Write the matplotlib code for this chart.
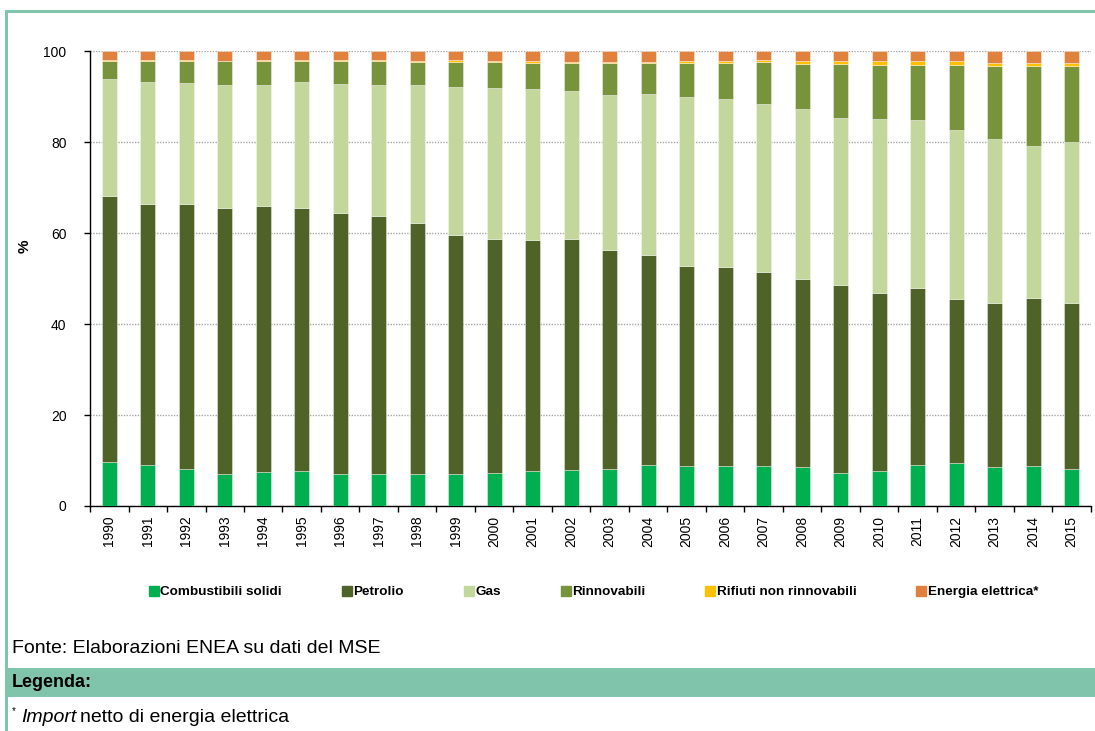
import numpy as np
import matplotlib
matplotlib.use("Agg")
import matplotlib.pyplot as plt
from matplotlib.patches import Rectangle
from matplotlib.lines import Line2D

plt.rcParams["font.family"] = ["Liberation Sans", "DejaVu Sans"]

# Quote % per fonte, 1990-2015
years = [str(y) for y in range(1990, 2016)]
solidi = [9.7, 9.0, 8.1, 7.0, 7.5, 7.7, 7.0, 7.0, 7.0, 7.0, 7.3, 7.7, 7.9,
          8.1, 9.0, 8.8, 8.9, 8.8, 8.6, 7.3, 7.7, 9.0, 9.5, 8.6, 8.8, 8.1]
petrolio = [58.5, 57.3, 58.2, 58.5, 58.5, 57.8, 57.3, 56.7, 55.2, 52.6, 51.4, 50.7, 50.8,
            48.1, 46.2, 44.0, 43.7, 42.7, 41.2, 41.2, 39.2, 39.0, 36.1, 36.0, 36.9, 36.5]
gas = [25.6, 26.8, 26.6, 27.1, 26.5, 27.6, 28.4, 28.9, 30.3, 32.4, 33.2, 33.2, 32.5,
       34.1, 35.3, 37.1, 36.9, 36.9, 37.5, 36.7, 38.2, 36.9, 37.1, 36.0, 33.4, 35.3]
rinnovabili = [4.1, 4.8, 5.0, 5.1, 5.4, 4.7, 5.1, 5.2, 5.1, 5.6, 5.7, 5.8, 6.1,
               7.0, 6.9, 7.4, 7.9, 9.2, 9.8, 11.9, 11.8, 12.1, 14.2, 16.1, 17.6, 16.8]
rifiuti = [0.1, 0.1, 0.1, 0.1, 0.1, 0.3, 0.3, 0.3, 0.2, 0.4, 0.2, 0.3, 0.2,
           0.3, 0.2, 0.4, 0.5, 0.5, 0.6, 0.6, 0.9, 0.8, 0.9, 0.7, 0.7, 0.7]
elettrica = [2.0, 2.0, 2.0, 2.2, 2.0, 1.9, 1.9, 1.9, 2.2, 2.0, 2.2, 2.3, 2.5,
             2.4, 2.4, 2.3, 2.1, 1.9, 2.3, 2.3, 2.2, 2.2, 2.2, 2.6, 2.6, 2.6]

series = [
    ("Combustibili solidi", solidi, "#00B050"),
    ("Petrolio", petrolio, "#4F6228"),
    ("Gas", gas, "#C3D69B"),
    ("Rinnovabili", rinnovabili, "#77933C"),
    ("Rifiuti non rinnovabili", rifiuti, "#FFC000"),
    ("Energia elettrica*", elettrica, "#E0823E"),
]

GREEN = "#80C4AC"

fig = plt.figure(figsize=(10.95, 7.31), dpi=100)
ax = fig.add_axes([0.0822, 0.3078, 0.9141, 0.6224])

x = np.arange(len(years))
bottom = np.zeros(len(years))
handles = []
for name, vals, col in series:
    vals = np.array(vals)
    ax.bar(x, vals, 0.4, bottom=bottom, color=col,
           edgecolor=(1, 1, 1, 0.45), linewidth=0.6, zorder=3)
    bottom += vals
    handles.append(Line2D([], [], marker="s", ls="", markersize=7,
                          markerfacecolor=col, markeredgecolor=col, label=name))

ax.set_xlim(-0.5, len(years) - 0.5)
ax.set_ylim(0, 100)
ax.set_yticks(range(0, 101, 20))
ax.yaxis.grid(True, color="#a6a6a6", linestyle=(0, (1, 1)), linewidth=1.0, zorder=0)
ax.set_xticks(x)
ax.set_xticklabels(years, rotation=90, fontsize=10)
ax.set_xticks(np.arange(-0.5, len(years)), minor=True)
ax.tick_params(axis="x", which="major", length=0, pad=7)
ax.tick_params(axis="x", which="minor", length=4, direction="out", width=1)
ax.tick_params(axis="y", length=4, direction="out", width=1, labelsize=10, pad=13)
for s in ("top", "right"):
    ax.spines[s].set_visible(False)
for s in ("left", "bottom"):
    ax.spines[s].set_linewidth(1.0)
ax.set_ylabel("%", fontsize=11, fontweight="bold")
ax.yaxis.set_label_coords(-0.058, 0.57)

leg = fig.legend(handles=handles, loc="center", bbox_to_anchor=(0.542, 0.19),
                 ncol=6, frameon=False, handlelength=0.8, handletextpad=0.1,
                 columnspacing=4.4, prop={"weight": "bold", "size": 9.7})

# cornice verde
fig.add_artist(Line2D([0.0055, 1.0], [0.9855, 0.9855], color=GREEN, lw=2.2,
                      transform=fig.transFigure))
fig.add_artist(Line2D([0.0058, 0.0058], [0.0, 0.9855], color=GREEN, lw=2.2,
                      transform=fig.transFigure))
fig.add_artist(Rectangle((0.007, 0.0465), 0.993, 0.0395, transform=fig.transFigure,
                         facecolor=GREEN, edgecolor="none"))

fig.text(0.011, 0.1135, "Fonte: Elaborazioni ENEA su dati del MSE", fontsize=14,
         va="center")
fig.text(0.011, 0.0665, "Legenda:", fontsize=13, fontweight="bold", va="center")
fig.text(0.011, 0.027, "*", fontsize=7, va="center")
t_imp = fig.text(0.019, 0.018, "Import", fontsize=14, style="italic", va="center")

# "netto ..." subito dopo la parola in corsivo
fig.canvas.draw()
bb = t_imp.get_window_extent().transformed(fig.transFigure.inverted())
fig.text(bb.x1 + 0.004, 0.018, "netto di energia elettrica", fontsize=14, va="center")

fig.savefig("out.png", dpi=100)
